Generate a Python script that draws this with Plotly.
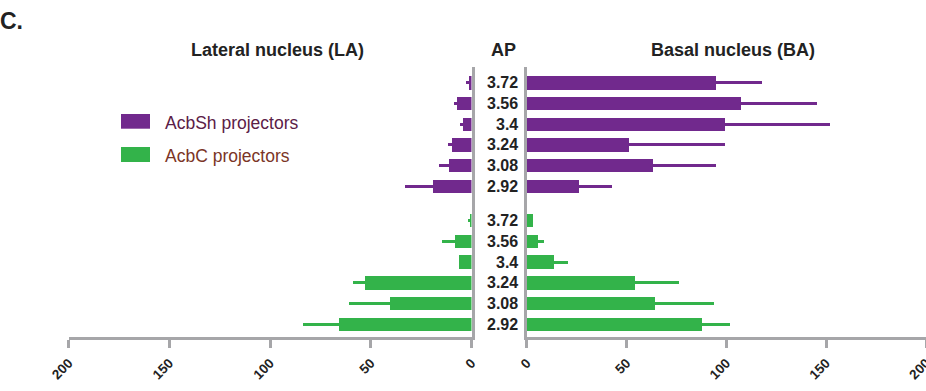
import plotly.graph_objects as go

# ---- data ----
ap_labels = ["3.72", "3.56", "3.4", "3.24", "3.08", "2.92"]
la_shell = [1.2, 7.2, 4.2, 9.7, 11.2, 19.1]
la_shell_err = [1.7, 1.5, 1.5, 2.1, 5.1, 13.9]
ba_shell = [94.5, 107.4, 99.0, 51.3, 63.2, 26.0]
ba_shell_err = [23.3, 38.2, 52.9, 48.0, 31.4, 16.9]
la_core = [0.5, 8.2, 6.2, 52.9, 40.5, 65.8]
la_core_err = [1.1, 6.3, 0.0, 6.1, 20.5, 17.7]
ba_core = [3.0, 5.5, 13.4, 54.1, 64.2, 87.5]
ba_core_err = [0.0, 3.4, 7.5, 22.2, 29.6, 14.3]
tick_vals = [0, 50, 100, 150, 200]

PURPLE = "#71298d"
GREEN = "#33b34a"
GRAY = "#a6a6a9"
TXT = "#222222"
FONT = "Liberation Sans"

n = len(ap_labels)
gap = 1.65
pos_shell = [i for i in range(n)]
pos_core = [i + (n - 1) + gap for i in range(n)]

W, H = 926, 391
MT, MB = 67, 54
PH = H - MT - MB

def py(ypx):
    return (H - MB - ypx) / PH

fig = go.Figure()

def add(vals, errs, pos, color, xa, ya):
    fig.add_trace(go.Bar(
        x=vals, y=pos, orientation="h", width=0.65,
        marker=dict(color=color, line=dict(width=0)),
        error_x=dict(type="data", symmetric=False, array=errs,
                     arrayminus=[0] * len(errs), color=color,
                     thickness=3, width=0),
        xaxis=xa, yaxis=ya, showlegend=False, hoverinfo="skip"))

add(la_shell, la_shell_err, pos_shell, PURPLE, "x", "y")
add(la_core, la_core_err, pos_core, GREEN, "x", "y")
add(ba_shell, ba_shell_err, pos_shell, PURPLE, "x2", "y2")
add(ba_core, ba_core_err, pos_core, GREEN, "x2", "y2")

yrange = [pos_core[-1] + 0.61, -0.76]
xax_common = dict(
    tickvals=tick_vals, ticktext=[str(v) for v in tick_vals],
    tickangle=-45, ticks="outside", ticklen=8, tickwidth=3,
    tickcolor=GRAY, showline=True, linecolor=GRAY, linewidth=3,
    showgrid=False, zeroline=False, automargin=False,
    ticklabelstandoff=2, ticklabeloverflow="allow",
    tickfont=dict(family=FONT, size=13.5, color=TXT, weight="bold"),
)
yax_common = dict(domain=[0, 1], range=yrange, showline=True, linecolor=GRAY,
                  linewidth=3, showticklabels=False, ticks="", showgrid=False,
                  zeroline=False, automargin=False)
fig.update_layout(
    width=W, height=H, paper_bgcolor="white", plot_bgcolor="white",
    margin=dict(l=0, r=0, t=MT, b=MB, autoexpand=False),
    bargap=0,
    xaxis=dict(domain=[68.7 / W, 471.5 / W], range=[200, 0], anchor="y", **xax_common),
    xaxis2=dict(domain=[526.7 / W, 1.0], range=[0, 200], anchor="y2", **xax_common),
    yaxis=dict(side="right", anchor="x", **yax_common),
    yaxis2=dict(side="left", anchor="x2", **yax_common),
    font=dict(family=FONT, color=TXT),
)

ann = []
for lab, p in list(zip(ap_labels, pos_shell)) + list(zip(ap_labels, pos_core)):
    ann.append(dict(text=lab, x=520 / W, xref="paper", y=p, yref="y",
                    xanchor="right", yanchor="middle", showarrow=False,
                    font=dict(family=FONT, size=16, color=TXT, weight="bold")))

def ptext(text, x, y, size, color=TXT, xanchor="center", bold=True):
    ann.append(dict(text=text, x=x / W, y=py(y), xref="paper", yref="paper",
                    xanchor=xanchor, yanchor="middle", showarrow=False,
                    font=dict(family=FONT, size=size, color=color,
                              weight="bold" if bold else "normal")))

ptext("C.", -2, 21, 23, xanchor="left")
ptext("Lateral nucleus (LA)", 277, 50, 18)
ptext("AP", 503, 50, 18)
ptext("Basal nucleus (BA)", 733, 50, 18)
ptext("AcbSh projectors", 163, 122.5, 17.5, color="#5b2047", xanchor="left", bold=False)
ptext("AcbC projectors", 163, 155.5, 17.5, color="#7b3526", xanchor="left", bold=False)

shapes = [
    dict(type="rect", xref="paper", yref="paper", x0=121 / W, x1=150 / W,
         y0=py(128.7), y1=py(114), fillcolor=PURPLE, line=dict(width=0)),
    dict(type="rect", xref="paper", yref="paper", x0=121 / W, x1=150 / W,
         y0=py(162), y1=py(147), fillcolor=GREEN, line=dict(width=0)),
]
fig.update_layout(annotations=ann, shapes=shapes)

fig.write_html("out.html")
